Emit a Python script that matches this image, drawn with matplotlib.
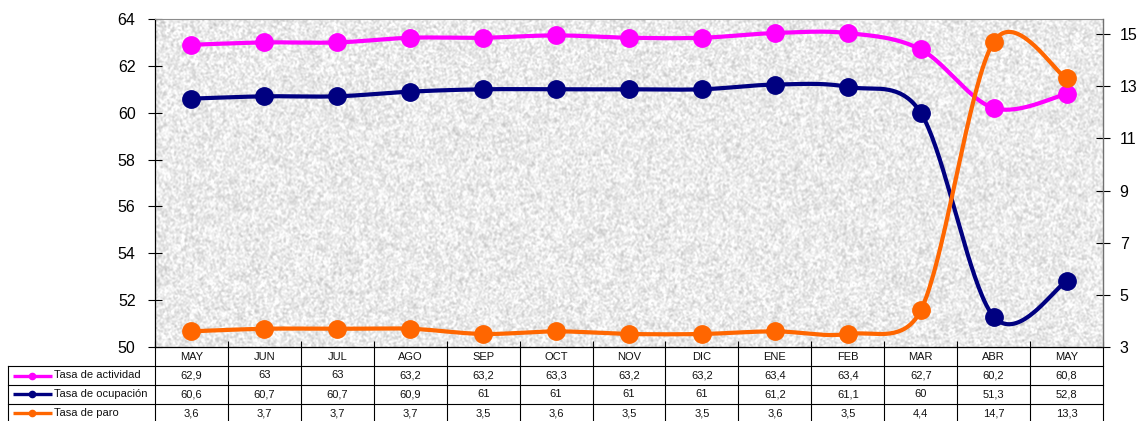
import numpy as np
import matplotlib
matplotlib.use("Agg")
import matplotlib.pyplot as plt

plt.rcParams['font.family'] = ['Liberation Sans', 'DejaVu Sans']

# ---- data -------------------------------------------------------------
months = ["MAY", "JUN", "JUL", "AGO", "SEP", "OCT", "NOV", "DIC",
          "ENE", "FEB", "MAR", "ABR", "MAY"]
actividad = [62.9, 63, 63, 63.2, 63.2, 63.3, 63.2, 63.2, 63.4, 63.4, 62.7, 60.2, 60.8]
ocupacion = [60.6, 60.7, 60.7, 60.9, 61, 61, 61, 61, 61.2, 61.1, 60, 51.3, 52.8]
paro = [3.6, 3.7, 3.7, 3.7, 3.5, 3.6, 3.5, 3.5, 3.6, 3.5, 4.4, 14.7, 13.3]
series_names = ["Tasa de actividad", "Tasa de ocupación", "Tasa de paro"]
colors = ["#FF00FF", "#000080", "#FF6600"]
left_ticks = list(range(50, 65, 2))
right_ticks = list(range(3, 16, 2))


def _handle(vec, seg_len):
    """Tangent handle, capped at half of the segment it belongs to."""
    h = vec / 6.0
    n = np.linalg.norm(h)
    cap = seg_len / 2.0
    if n > cap > 0:
        h = h * cap / n
    return h


def smooth(axis, xs, ys, n=40):
    """Bezier smoothing through every point, computed in screen space."""
    pts = axis.transData.transform(np.column_stack([xs, ys]))
    m = len(pts)
    out = []
    t = np.linspace(0, 1, n)[:, None]
    for i in range(m - 1):
        p0 = pts[max(i - 1, 0)]
        p1, p2 = pts[i], pts[i + 1]
        p3 = pts[min(i + 2, m - 1)]
        d12 = np.linalg.norm(p2 - p1)
        c1 = p1 + _handle(p2 - p0, d12)
        c2 = p2 - _handle(p3 - p1, d12)
        seg = ((1 - t) ** 3) * p1 + 3 * ((1 - t) ** 2) * t * c1 \
            + 3 * (1 - t) * t ** 2 * c2 + t ** 3 * p2
        out.append(seg if i == 0 else seg[1:])
    seg = axis.transData.inverted().transform(np.vstack(out))
    return seg[:, 0], seg[:, 1]


def fmt(v):
    return f"{v:g}".replace(".", ",")


# ---- layout (pixels) --------------------------------------------------
W, H = 1142, 421
L, R, T, B = 155, 1103, 19, 347
colw = (R - L) / len(months)

fig = plt.figure(figsize=(W / 100, H / 100), dpi=100)
fig.patch.set_facecolor("white")

ax = fig.add_axes([L / W, 1 - B / H, (R - L) / W, (B - T) / H])
ax.set_xlim(-0.5, len(months) - 0.5)
ax.set_ylim(50, 64)

# granite-like plot background
rng = np.random.default_rng(11)
tex = rng.random((B - T, R - L))
for _ in range(2):
    tex = (tex + np.roll(tex, 1, 0) + np.roll(tex, 1, 1)
           + np.roll(np.roll(tex, 1, 0), 1, 1)) / 4
tex = (tex - tex.mean()) / tex.std()
gray = np.clip(0.92 + 0.045 * tex, 0.74, 1.0)
ax.imshow(gray, extent=[0, 1, 0, 1], transform=ax.transAxes, aspect="auto",
          cmap="gray", vmin=0, vmax=1, interpolation="bilinear", zorder=0)

ax2 = ax.twinx()
ax2.set_ylim(3, 15.58)
ax.set_xlim(-0.5, len(months) - 0.5)

x = np.arange(len(months), dtype=float)
for vals, col, axis in [(actividad, colors[0], ax),
                        (ocupacion, colors[1], ax),
                        (paro, colors[2], ax2)]:
    sx, sy = smooth(axis, x, vals)
    axis.plot(sx, sy, color=col, lw=3.0, solid_capstyle="round", zorder=3)
    axis.plot(x, vals, "o", color=col, ms=12.5, zorder=4)

# axes styling
ax.set_yticks(left_ticks)
ax.tick_params(axis="y", direction="inout", length=10, width=0.8,
               labelsize=11.5, pad=9, colors="black")
ax.set_xticks(np.arange(-0.5, len(months), 1))
ax.tick_params(axis="x", direction="in", length=4, width=0.8,
               labelbottom=False)
ax2.set_yticks(right_ticks)
ax2.tick_params(axis="y", direction="inout", length=10, width=0.8,
                labelsize=11.5, pad=7, colors="black")
for sp in ["left", "bottom"]:
    ax.spines[sp].set_color("black")
    ax.spines[sp].set_linewidth(0.9)
ax.spines["top"].set_color("#8c8c8c")
ax.spines["right"].set_visible(False)
for sp in ["left", "bottom", "top"]:
    ax2.spines[sp].set_visible(False)
ax2.spines["right"].set_color("#707070")
ax2.spines["right"].set_linewidth(1.0)

# ---- data table below the plot -----------------------------------------
TL, TB = 8, 423
row_h = 19
head_bot = 366
tax = fig.add_axes([TL / W, 1 - TB / H, (R - TL) / W, (TB - B) / H])
x_left = -0.5 - (L - TL) / colw
tax.set_xlim(x_left, len(months) - 0.5)
tax.set_ylim(TB, B)
tax.axis("off")


def px2x(px):
    return -0.5 + (px - L) / colw


lk = dict(color="black", lw=0.8, clip_on=False)
for yy in [head_bot + k * row_h for k in range(4)]:
    tax.plot([x_left, len(months) - 0.5], [yy, yy], **lk)
tax.plot([x_left, x_left], [head_bot, TB], **lk)
for k in range(len(months) + 1):
    tax.plot([k - 0.5, k - 0.5], [B, TB], **lk)

for i, m in enumerate(months):
    tax.text(i, (B + head_bot) / 2 + 0.5, m, ha="center", va="center",
             fontsize=8, color="#111111")

rows = [actividad, ocupacion, paro]
for r, (vals, name, col) in enumerate(zip(rows, series_names, colors)):
    yc = head_bot + (r + 0.5) * row_h
    for i, v in enumerate(vals):
        tax.text(i, yc, fmt(v), ha="center", va="center",
                 fontsize=8, color="#111111")
    tax.plot([px2x(13), px2x(52)], [yc, yc], color=col, lw=2.4,
             clip_on=False, solid_capstyle="butt")
    tax.plot([px2x(32)], [yc], "o", color=col, ms=4.5, clip_on=False)
    tax.text(px2x(54), yc, name, ha="left", va="center",
             fontsize=8, color="#111111")

fig.savefig("out.png", dpi=100, facecolor="white")
